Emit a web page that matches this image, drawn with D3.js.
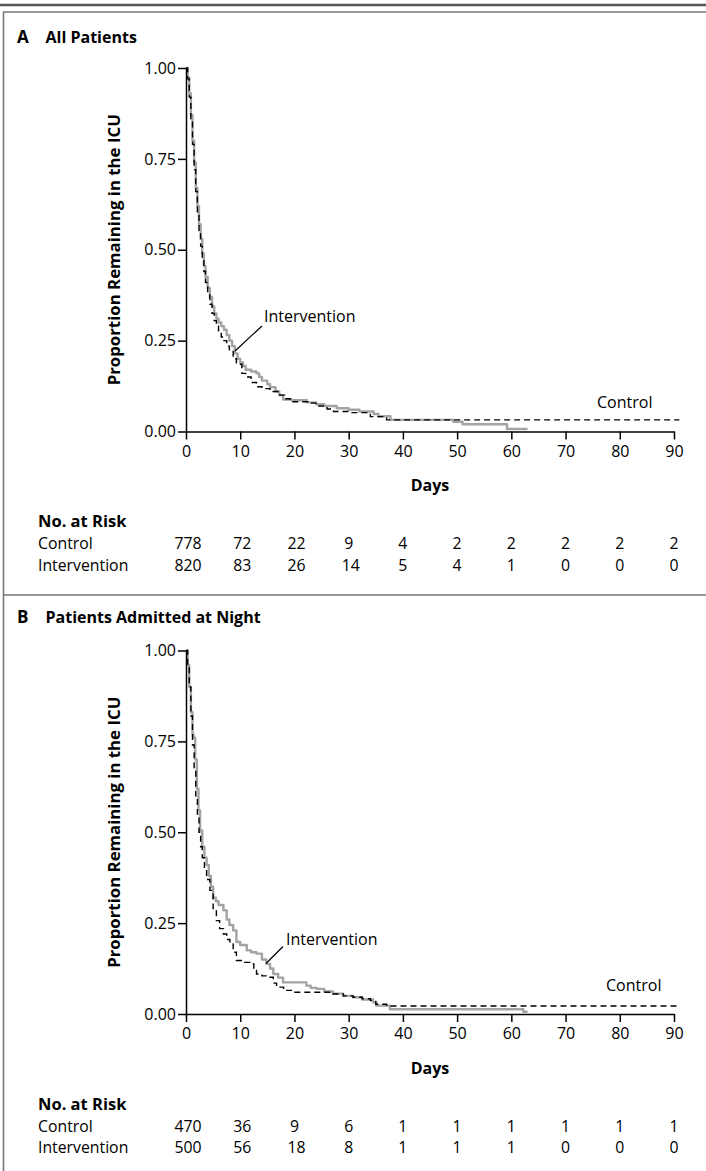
<!DOCTYPE html>
<html>
<head>
<meta charset="utf-8">
<script src="https://cdn.jsdelivr.net/npm/d3@7/dist/d3.min.js"></script>
<style>
  html, body { margin: 0; padding: 0; background: #fff; }
  svg { display: block; }
  text { font-family: "Open Sans", "Noto Sans", sans-serif; fill: #000; }
</style>
</head>
<body>
<svg id="chart" width="706" height="1171"></svg>
<script>
// ---------------- DATA ----------------
const dayTicks = [0, 10, 20, 30, 40, 50, 60, 70, 80, 90];
const yTicks = [0, 0.25, 0.5, 0.75, 1.0];

const panelTitles = ["All Patients", "Patients Admitted at Night"];
const panelLetters = ["A", "B"];
const groupNames = ["Control", "Intervention"];

// Panel A: Kaplan–Meier step points (day, proportion remaining)
const controlA_days = [0, 0.3, 0.6, 0.9, 1.2, 1.5, 1.8, 2.1, 2.4, 2.7, 3.0, 3.3, 3.6, 4.0, 4.4, 4.8, 5.2, 5.6, 6.0, 6.5, 7.0, 7.5, 8.0, 8.7, 9.3, 10.3, 11.0, 12.0, 13.0, 14.0, 15.5, 17.3, 18.2, 19.2, 22.9, 24.5, 26.0, 27.2, 30.0, 34.0, 37.0, 91.0];
const controlA_surv = [1.0, 0.97, 0.92, 0.86, 0.79, 0.72, 0.66, 0.60, 0.55, 0.51, 0.47, 0.44, 0.41, 0.38, 0.35, 0.325, 0.305, 0.29, 0.275, 0.26, 0.25, 0.235, 0.22, 0.20, 0.185, 0.16, 0.15, 0.135, 0.123, 0.118, 0.11, 0.10, 0.09, 0.082, 0.078, 0.07, 0.062, 0.055, 0.052, 0.041, 0.032, 0.032];
const interventionA_days = [0, 0.3, 0.6, 0.9, 1.2, 1.5, 1.8, 2.1, 2.4, 2.7, 3.0, 3.3, 3.6, 4.0, 4.4, 4.8, 5.2, 5.6, 6.0, 6.5, 7.0, 7.5, 8.0, 8.5, 9.0, 9.5, 10.0, 10.5, 11.0, 12.0, 13.0, 13.5, 14.0, 15.0, 15.5, 16.5, 17.2, 17.9, 19.5, 22.3, 24.0, 25.5, 27.8, 30.0, 32.0, 34.6, 35.5, 37.7, 49.3, 51.0, 59.2, 63.0];
const interventionA_surv = [1.0, 0.975, 0.93, 0.87, 0.80, 0.74, 0.67, 0.62, 0.57, 0.53, 0.49, 0.455, 0.425, 0.395, 0.37, 0.345, 0.325, 0.31, 0.30, 0.29, 0.28, 0.265, 0.25, 0.235, 0.215, 0.20, 0.19, 0.18, 0.17, 0.165, 0.16, 0.15, 0.14, 0.13, 0.122, 0.11, 0.10, 0.088, 0.086, 0.08, 0.075, 0.07, 0.064, 0.06, 0.055, 0.048, 0.042, 0.032, 0.027, 0.020, 0.007, 0.007];

// Panel B
const controlB_days = [0, 0.3, 0.6, 0.9, 1.2, 1.5, 1.8, 2.1, 2.4, 2.7, 3.0, 3.4, 3.8, 4.4, 5.0, 5.6, 6.2, 6.9, 7.5, 8.1, 8.7, 9.3, 10.5, 11.8, 12.5, 13.0, 14.0, 15.5, 16.1, 16.7, 18.0, 19.8, 25.9, 27.0, 29.0, 30.8, 32.5, 34.0, 35.0, 37.0, 91.0];
const controlB_surv = [1.0, 0.96, 0.90, 0.82, 0.74, 0.67, 0.60, 0.55, 0.50, 0.46, 0.43, 0.40, 0.37, 0.34, 0.29, 0.257, 0.235, 0.22, 0.205, 0.193, 0.17, 0.147, 0.142, 0.138, 0.12, 0.11, 0.105, 0.101, 0.085, 0.074, 0.065, 0.06, 0.06, 0.055, 0.05, 0.046, 0.042, 0.037, 0.027, 0.022, 0.022];
const interventionB_days = [0, 0.3, 0.6, 0.9, 1.2, 1.4, 1.7, 2.0, 2.3, 2.6, 3.0, 3.4, 3.8, 4.2, 4.6, 5.0, 5.5, 6.0, 6.9, 7.5, 8.0, 8.7, 9.3, 10.0, 11.2, 12.0, 13.0, 14.0, 14.8, 15.5, 16.1, 17.0, 17.9, 22.2, 23.0, 24.1, 25.5, 27.1, 29.0, 30.8, 32.5, 34.5, 35.1, 37.6, 62.2, 63.0];
const interventionB_surv = [1.0, 0.96, 0.90, 0.83, 0.77, 0.76, 0.70, 0.62, 0.56, 0.505, 0.46, 0.43, 0.41, 0.38, 0.35, 0.32, 0.31, 0.30, 0.285, 0.26, 0.245, 0.23, 0.198, 0.19, 0.175, 0.17, 0.166, 0.15, 0.138, 0.125, 0.11, 0.10, 0.087, 0.078, 0.072, 0.069, 0.062, 0.056, 0.05, 0.046, 0.04, 0.032, 0.023, 0.013, 0.006, 0.006];

// Number at risk
const riskA_control = [778, 72, 22, 9, 4, 2, 2, 2, 2, 2];
const riskA_intervention = [820, 83, 26, 14, 5, 4, 1, 0, 0, 0];
const riskB_control = [470, 36, 9, 6, 1, 1, 1, 1, 1, 1];
const riskB_intervention = [500, 56, 18, 8, 1, 1, 1, 0, 0, 0];

// ---------------- DRAW ----------------
const svg = d3.select("#chart");
const W = 706;

// frame decorations
svg.append("line").attr("x1", 0).attr("x2", W).attr("y1", 5).attr("y2", 5)
  .attr("stroke", "#555").attr("stroke-width", 2.5);
svg.append("line").attr("x1", 3).attr("x2", W).attr("y1", 12).attr("y2", 12)
  .attr("stroke", "#777").attr("stroke-width", 1.6);
svg.append("line").attr("x1", 3.5).attr("x2", 3.5).attr("y1", 11.5).attr("y2", 1171)
  .attr("stroke", "#777").attr("stroke-width", 1.6);
svg.append("line").attr("x1", 3).attr("x2", W).attr("y1", 595).attr("y2", 595)
  .attr("stroke", "#777").attr("stroke-width", 1.6);

const panels = [
  { off: 0, titleY: 43, letter: panelLetters[0], title: panelTitles[0],
    ctrl: controlA_days.map((d, i) => [d, controlA_surv[i]]),
    intv: interventionA_days.map((d, i) => [d, interventionA_surv[i]]),
    riskC: riskA_control, riskI: riskA_intervention,
    intvLabel: { x: 264, y: 322, lx1: 262, ly1: 326, lx2: 235, ly2: 351 },
    ctrlLabel: { x: 597, y: 408 } },
  { off: 582.5, titleY: 623, letter: panelLetters[1], title: panelTitles[1],
    ctrl: controlB_days.map((d, i) => [d, controlB_surv[i]]),
    intv: interventionB_days.map((d, i) => [d, interventionB_surv[i]]),
    riskC: riskB_control, riskI: riskB_intervention,
    intvLabel: { x: 286, y: 362.5, lx1: 283, ly1: 364, lx2: 266, ly2: 381 },
    ctrlLabel: { x: 606, y: 408.5 } }
];

panels.forEach(p => {
  const g = svg.append("g").attr("transform", `translate(0,${p.off})`);
  // title
  g.append("text").attr("x", 17).attr("y", p.titleY - p.off)
    .attr("font-size", 17).attr("font-weight", 700).text(p.letter);
  g.append("text").attr("x", 45.5).attr("y", p.titleY - p.off)
    .attr("font-size", 16).attr("font-weight", 700).text(p.title);

  const x = d3.scaleLinear().domain([0, 90]).range([186, 674]);
  const y = d3.scaleLinear().domain([0, 1]).range([431.5, 68]);

  // curves
  const line = d3.line().x(d => x(d[0])).y(d => y(d[1])).curve(d3.curveStepAfter);
  g.append("path").datum(p.intv).attr("d", line)
    .attr("fill", "none").attr("stroke", "#a3a3a3").attr("stroke-width", 2.4)
    .attr("stroke-linejoin", "round");
  g.append("path").datum(p.ctrl).attr("d", line)
    .attr("fill", "none").attr("stroke", "#000").attr("stroke-width", 1.4)
    .attr("stroke-dasharray", "6,4");

  // axes
  const yAxis = d3.axisLeft(y).tickValues(yTicks).tickFormat(d3.format(".2f"))
    .tickSize(8).tickSizeOuter(0).tickPadding(2);
  const ya = g.append("g").attr("transform", "translate(186,0)").call(yAxis);
  const xAxis = d3.axisBottom(x).tickValues(dayTicks).tickFormat(d3.format("d"))
    .tickSize(8).tickSizeOuter(0).tickPadding(6);
  const xa = g.append("g").attr("transform", "translate(0,431.5)").call(xAxis);
  [ya, xa].forEach(a => {
    a.select(".domain").attr("stroke", "#000").attr("stroke-width", 1.5);
    a.selectAll(".tick line").attr("stroke", "#000").attr("stroke-width", 1.5);
    a.selectAll(".tick text").attr("font-size", 16)
      .attr("font-family", "'Open Sans', sans-serif").attr("fill", "#000");
  });

  // axis titles
  g.append("text").attr("transform", `translate(120,249.75) rotate(-90)`)
    .attr("text-anchor", "middle").attr("font-size", 16.8).attr("font-weight", 700)
    .text("Proportion Remaining in the ICU");
  g.append("text").attr("x", x(45)).attr("y", 491).attr("text-anchor", "middle")
    .attr("font-size", 16).attr("font-weight", 700).text("Days");

  // annotations
  g.append("text").attr("x", p.intvLabel.x).attr("y", p.intvLabel.y)
    .attr("font-size", 16).text(groupNames[1]);
  g.append("line").attr("x1", p.intvLabel.lx1).attr("y1", p.intvLabel.ly1)
    .attr("x2", p.intvLabel.lx2).attr("y2", p.intvLabel.ly2)
    .attr("stroke", "#000").attr("stroke-width", 1.2);
  g.append("text").attr("x", p.ctrlLabel.x).attr("y", p.ctrlLabel.y)
    .attr("font-size", 16).text(groupNames[0]);

  // number at risk table
  g.append("text").attr("x", 38).attr("y", 527).attr("font-size", 16.5)
    .attr("font-weight", 700).text("No. at Risk");
  const rows = [[groupNames[0], p.riskC, 549], [groupNames[1], p.riskI, 570.5]];
  rows.forEach(([name, vals, ry]) => {
    g.append("text").attr("x", 38).attr("y", ry).attr("font-size", 15.8).text(name);
    g.selectAll(null).data(vals).enter().append("text")
      .attr("x", (d, i) => x(dayTicks[i]) + (String(d).length > 1 ? 2 : 0))
      .attr("y", ry).attr("text-anchor", "middle").attr("font-size", 15.8)
      .text(d => d);
  });
});
</script>
</body>
</html>
